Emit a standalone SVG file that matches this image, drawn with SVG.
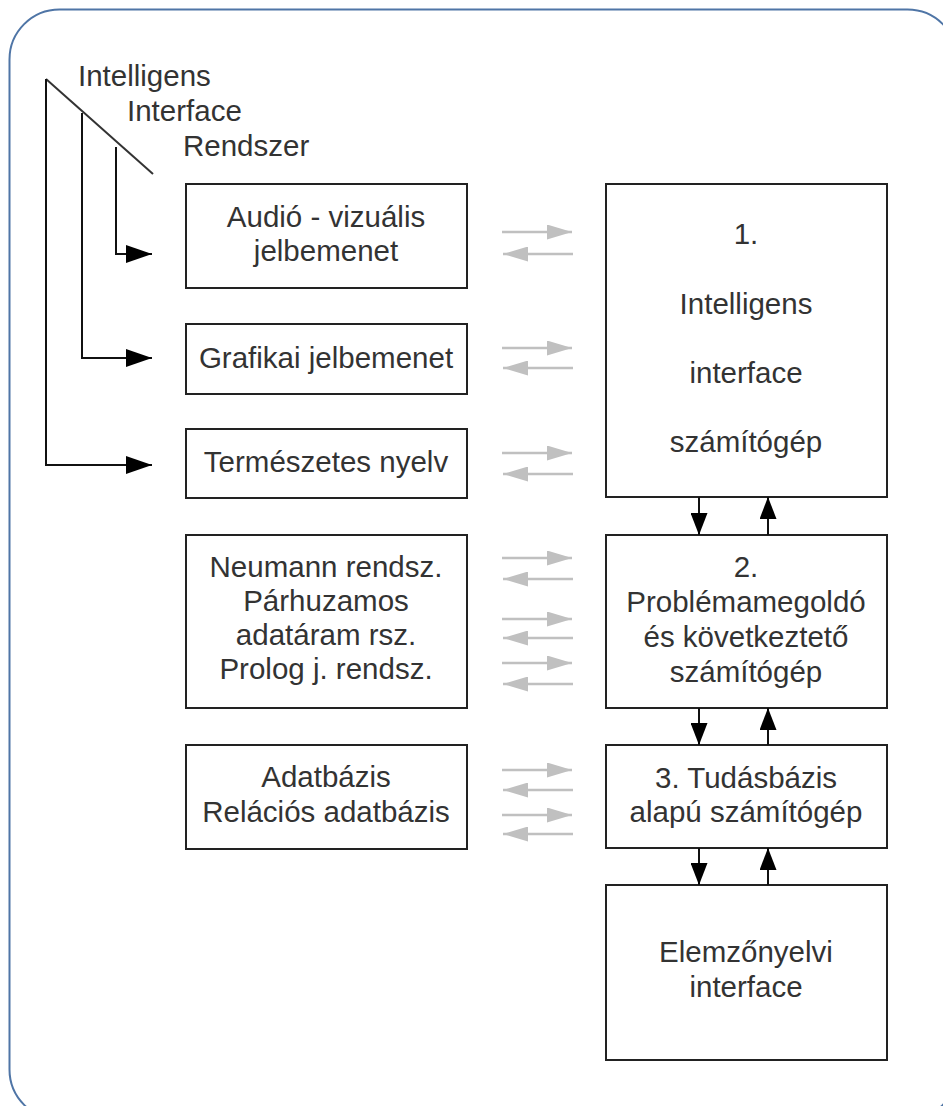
<svg xmlns="http://www.w3.org/2000/svg" width="943" height="1106" viewBox="0 0 943 1106">
<defs>
<style>
.box{fill:#fff;stroke:#222;stroke-width:2}
.t{font-family:"Liberation Sans",Arial,sans-serif;font-size:29.5px;fill:#333;text-anchor:middle}
.tl{font-family:"Liberation Sans",Arial,sans-serif;font-size:29.5px;fill:#333}
.blk{fill:none;stroke:#111;stroke-width:2}
.gr{fill:none;stroke:#c0c0c0;stroke-width:2.5}
</style>
<marker id="ab2" viewBox="0 0 10 10" refX="10" refY="5" markerWidth="26" markerHeight="18" markerUnits="userSpaceOnUse" orient="auto" preserveAspectRatio="none"><path d="M0,0 L10,5 L0,10 Z" fill="#000"/></marker>
<marker id="ag" viewBox="0 0 10 10" refX="10" refY="5" markerWidth="25" markerHeight="15" markerUnits="userSpaceOnUse" orient="auto" preserveAspectRatio="none"><path d="M0,0 L10,5 L0,10 Z" fill="#c0c0c0"/></marker>
<marker id="av" viewBox="0 0 10 10" refX="10" refY="5" markerWidth="22" markerHeight="17" markerUnits="userSpaceOnUse" orient="auto" preserveAspectRatio="none"><path d="M0,0 L10,5 L0,10 Z" fill="#000"/></marker>
</defs>
<rect x="0" y="0" width="943" height="1106" fill="#fff"/>
<rect id="frame" x="9.5" y="9.5" width="948" height="1110" rx="50" ry="50" fill="none" stroke="#4f75a6" stroke-width="2"/>

<g id="label-iir">
<text class="tl" x="78" y="86">Intelligens</text>
<text class="tl" x="127" y="121">Interface</text>
<text class="tl" x="183" y="156">Rendszer</text>
</g>

<g id="n-audio"><rect class="box" x="186" y="184" width="281" height="104"/><text class="t" x="326" y="227">Audió - vizuális</text><text class="t" x="326" y="261">jelbemenet</text></g>
<g id="n-grafikai"><rect class="box" x="186" y="324" width="281" height="70"/><text class="t" x="326" y="368">Grafikai jelbemenet</text></g>
<g id="n-termeszetes"><rect class="box" x="186" y="429" width="281" height="69"/><text class="t" x="326" y="472">Természetes nyelv</text></g>
<g id="n-neumann"><rect class="box" x="186" y="535" width="281" height="173"/><text class="t" x="326" y="577">Neumann rendsz.</text><text class="t" x="326" y="611">Párhuzamos</text><text class="t" x="326" y="645">adatáram rsz.</text><text class="t" x="326" y="679">Prolog j. rendsz.</text></g>
<g id="n-adatbazis"><rect class="box" x="186" y="745" width="281" height="104"/><text class="t" x="326" y="787">Adatbázis</text><text class="t" x="326" y="822">Relációs adatbázis</text></g>

<g id="n-1"><rect class="box" x="606" y="184" width="281" height="313"/><text class="t" x="746" y="244">1.</text><text class="t" x="746" y="314">Intelligens</text><text class="t" x="746" y="383">interface</text><text class="t" x="746" y="452">számítógép</text></g>
<g id="n-2"><rect class="box" x="606" y="535" width="281" height="173"/><text class="t" x="746" y="577">2.</text><text class="t" x="746" y="612">Problémamegoldó</text><text class="t" x="746" y="647">és következtető</text><text class="t" x="746" y="682">számítógép</text></g>
<g id="n-3"><rect class="box" x="606" y="745" width="281" height="103"/><text class="t" x="746" y="788">3. Tudásbázis</text><text class="t" x="746" y="822">alapú számítógép</text></g>
<g id="n-elemzo"><rect class="box" x="606" y="885" width="281" height="175"/><text class="t" x="746" y="962">Elemzőnyelvi</text><text class="t" x="746" y="997">interface</text></g>

<g id="connectors">
<line x1="46" y1="79" x2="153" y2="174" stroke="#333" stroke-width="2"/>
<path class="blk" d="M116,147 V254 H152" marker-end="url(#ab2)"/>
<path class="blk" d="M82,113 V358 H152" marker-end="url(#ab2)"/>
<path class="blk" d="M46,79 V465 H152" marker-end="url(#ab2)"/>

<line class="gr" x1="502" y1="232" x2="572" y2="232" marker-end="url(#ag)"/>
<line class="gr" x1="573" y1="254" x2="503" y2="254" marker-end="url(#ag)"/>
<line class="gr" x1="502" y1="348" x2="572" y2="348" marker-end="url(#ag)"/>
<line class="gr" x1="573" y1="368" x2="503" y2="368" marker-end="url(#ag)"/>
<line class="gr" x1="502" y1="453" x2="572" y2="453" marker-end="url(#ag)"/>
<line class="gr" x1="573" y1="474" x2="503" y2="474" marker-end="url(#ag)"/>
<line class="gr" x1="502" y1="558" x2="572" y2="558" marker-end="url(#ag)"/>
<line class="gr" x1="573" y1="579" x2="503" y2="579" marker-end="url(#ag)"/>
<line class="gr" x1="502" y1="619" x2="572" y2="619" marker-end="url(#ag)"/>
<line class="gr" x1="573" y1="638" x2="503" y2="638" marker-end="url(#ag)"/>
<line class="gr" x1="502" y1="663" x2="572" y2="663" marker-end="url(#ag)"/>
<line class="gr" x1="573" y1="684" x2="503" y2="684" marker-end="url(#ag)"/>
<line class="gr" x1="502" y1="770" x2="572" y2="770" marker-end="url(#ag)"/>
<line class="gr" x1="573" y1="790" x2="503" y2="790" marker-end="url(#ag)"/>
<line class="gr" x1="502" y1="815" x2="572" y2="815" marker-end="url(#ag)"/>
<line class="gr" x1="573" y1="834" x2="503" y2="834" marker-end="url(#ag)"/>

<line class="blk" x1="699" y1="497" x2="699" y2="535" marker-end="url(#av)"/>
<line class="blk" x1="768" y1="535" x2="768" y2="497" marker-end="url(#av)"/>
<line class="blk" x1="699" y1="708" x2="699" y2="745" marker-end="url(#av)"/>
<line class="blk" x1="768" y1="745" x2="768" y2="708" marker-end="url(#av)"/>
<line class="blk" x1="699" y1="848" x2="699" y2="885" marker-end="url(#av)"/>
<line class="blk" x1="768" y1="885" x2="768" y2="848" marker-end="url(#av)"/>
</g>
</svg>
